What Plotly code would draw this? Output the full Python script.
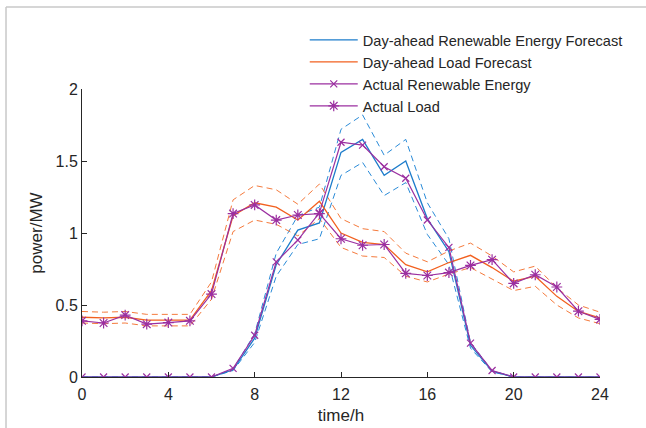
import plotly.graph_objects as go

hours = list(range(25))

re_forecast = [0, 0, 0, 0, 0, 0, 0, 0.05, 0.27, 0.78, 1.02, 1.07, 1.56, 1.65, 1.40, 1.50, 1.10, 0.87, 0.22, 0.04, 0, 0, 0, 0, 0]
re_upper = [0, 0, 0, 0, 0, 0, 0, 0.055, 0.30, 0.86, 1.12, 1.18, 1.72, 1.82, 1.54, 1.65, 1.21, 0.96, 0.24, 0.044, 0, 0, 0, 0, 0]
re_lower = [0, 0, 0, 0, 0, 0, 0, 0.045, 0.24, 0.70, 0.92, 0.96, 1.40, 1.49, 1.26, 1.35, 0.99, 0.78, 0.20, 0.036, 0, 0, 0, 0, 0]

load_forecast = [0.415, 0.41, 0.415, 0.395, 0.395, 0.395, 0.60, 1.12, 1.21, 1.18, 1.09, 1.22, 1.00, 0.935, 0.92, 0.78, 0.73, 0.795, 0.845, 0.76, 0.665, 0.70, 0.56, 0.455, 0.41]
load_upper = [0.455, 0.45, 0.455, 0.435, 0.435, 0.435, 0.66, 1.23, 1.33, 1.30, 1.20, 1.34, 1.10, 1.03, 1.01, 0.86, 0.80, 0.875, 0.93, 0.84, 0.73, 0.77, 0.62, 0.50, 0.45]
load_lower = [0.375, 0.37, 0.375, 0.355, 0.355, 0.355, 0.54, 1.01, 1.09, 1.06, 0.98, 1.10, 0.90, 0.84, 0.83, 0.70, 0.66, 0.715, 0.76, 0.68, 0.60, 0.63, 0.50, 0.41, 0.37]

re_actual = [0, 0, 0, 0, 0, 0, 0, 0.06, 0.29, 0.80, 0.95, 1.14, 1.63, 1.61, 1.46, 1.38, 1.09, 0.90, 0.235, 0.045, 0, 0, 0, 0, 0]
load_actual = [0.39, 0.375, 0.43, 0.367, 0.378, 0.39, 0.576, 1.135, 1.195, 1.09, 1.125, 1.135, 0.96, 0.915, 0.92, 0.72, 0.705, 0.725, 0.775, 0.815, 0.65, 0.71, 0.625, 0.457, 0.40]

x_ticks = [0, 4, 8, 12, 16, 20, 24]
y_ticks = [0, 0.5, 1, 1.5, 2]
y_tick_text = ["0", "0.5", "1", "1.5", "2"]

BLUE = "#1C7CCB"
BLUE_D = "#2A8BD8"
ORANGE = "#F2601F"
ORANGE_D = "#F57A3C"
PURPLE = "#9B2FA0"
FONT = "Liberation Sans, Arial, sans-serif"

fig = go.Figure()

for arr in (re_upper, re_lower):
    fig.add_trace(go.Scatter(x=hours, y=arr, mode="lines", showlegend=False,
                             line=dict(color=BLUE_D, width=1, dash="6px,4px"), hoverinfo="skip"))
for arr in (load_upper, load_lower):
    fig.add_trace(go.Scatter(x=hours, y=arr, mode="lines", showlegend=False,
                             line=dict(color=ORANGE_D, width=1, dash="6px,4px"), hoverinfo="skip"))

fig.add_trace(go.Scatter(x=hours, y=re_forecast, mode="lines",
                         name="Day-ahead Renewable Energy Forecast",
                         line=dict(color=BLUE, width=1.3)))
fig.add_trace(go.Scatter(x=hours, y=load_forecast, mode="lines",
                         name="Day-ahead Load Forecast",
                         line=dict(color=ORANGE, width=1.3)))
fig.add_trace(go.Scatter(x=hours, y=re_actual, mode="lines+markers",
                         name="Actual Renewable Energy",
                         line=dict(color=PURPLE, width=1.2),
                         marker=dict(symbol="x-thin-open", size=7, color=PURPLE,
                                     line=dict(color=PURPLE, width=1.2))))
fig.add_trace(go.Scatter(x=hours, y=load_actual, mode="lines+markers",
                         name="Actual Load",
                         line=dict(color=PURPLE, width=1.2),
                         marker=dict(symbol="asterisk-open", size=9, color=PURPLE,
                                     line=dict(color=PURPLE, width=1.2))))

fig.update_layout(
    width=646, height=428,
    margin=dict(l=82, r=46, t=89, b=51),
    paper_bgcolor="white", plot_bgcolor="white",
    font=dict(family=FONT, size=16, color="#262626"),
    showlegend=True,
    legend=dict(x=0.43, y=1.226, xanchor="left", yanchor="top",
                bgcolor="rgba(255,255,255,0)", font=dict(size=14.6, color="#262626"),
                tracegroupgap=0, itemwidth=48),
    xaxis=dict(range=[0, 24], tickvals=x_ticks, ticktext=[str(v) for v in x_ticks],
               ticks="inside", ticklen=5, tickcolor="#262626", showline=True,
               linecolor="#262626", linewidth=1, showgrid=False, zeroline=False,
               ticklabelstandoff=3, automargin=False,
               title=dict(text="time/h", standoff=6, font=dict(size=17)),
               tickfont=dict(size=16)),
    yaxis=dict(range=[0, 2], tickvals=y_ticks, ticktext=y_tick_text,
               ticks="inside", ticklen=5, tickcolor="#262626", showline=True,
               linecolor="#262626", linewidth=1, showgrid=False, zeroline=False,
               automargin=False,
               title=dict(text="power/MW", standoff=8, font=dict(size=17)),
               tickfont=dict(size=16)),
    shapes=[
        dict(type="line", xref="paper", yref="paper", x0=-0.1467, x1=1.09, y0=1.285, y1=1.285,
             line=dict(color="#C8C8C8", width=1.5)),
        dict(type="line", xref="paper", yref="paper", x0=-0.1467, x1=-0.1467, y0=-0.18, y1=1.285,
             line=dict(color="#C8C8C8", width=1.5)),
    ],
)

fig.write_html("out.html")
